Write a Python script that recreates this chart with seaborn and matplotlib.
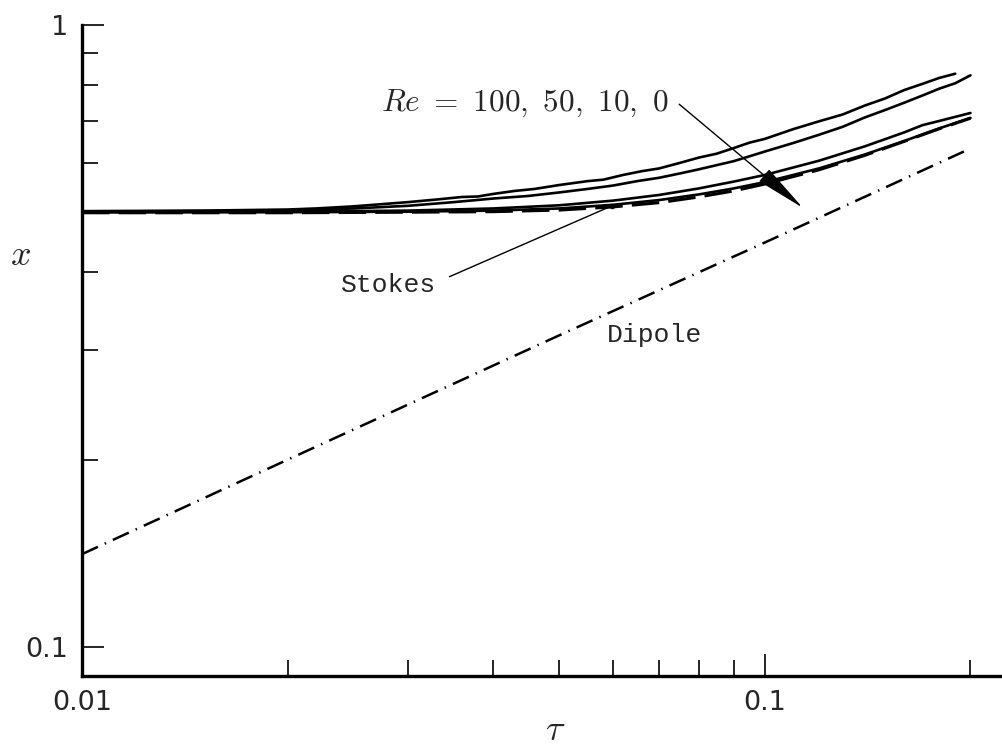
import numpy as np
import pandas as pd
import matplotlib
matplotlib.use("Agg")
import matplotlib.pyplot as plt
import seaborn as sns

# --- data -----------------------------------------------------------------
tau_re100 = [0.01, 0.015, 0.02, 0.022, 0.025, 0.028, 0.03, 0.033, 0.036, 0.038,
             0.04, 0.043, 0.046, 0.05, 0.055, 0.058, 0.062, 0.066, 0.07, 0.075,
             0.08, 0.085, 0.09, 0.095, 0.10, 0.11, 0.12, 0.13, 0.14, 0.15,
             0.16, 0.17, 0.18, 0.19]
x_re100 = [0.502, 0.503, 0.505, 0.507, 0.511, 0.516, 0.519, 0.524, 0.529, 0.530,
           0.535, 0.541, 0.545, 0.553, 0.561, 0.564, 0.574, 0.582, 0.588, 0.600,
           0.612, 0.621, 0.634, 0.647, 0.656, 0.680, 0.700, 0.718, 0.742, 0.762,
           0.786, 0.804, 0.822, 0.835]

tau_re50 = [0.01, 0.02, 0.025, 0.03, 0.035, 0.04, 0.045, 0.05, 0.055, 0.06,
            0.065, 0.07, 0.075, 0.08, 0.09, 0.10, 0.11, 0.12, 0.13, 0.14,
            0.15, 0.16, 0.17, 0.18, 0.19, 0.20]
x_re50 = [0.501, 0.503, 0.507, 0.512, 0.519, 0.526, 0.531, 0.538, 0.545, 0.552,
          0.561, 0.568, 0.577, 0.586, 0.604, 0.626, 0.646, 0.666, 0.686, 0.710,
          0.730, 0.750, 0.770, 0.790, 0.806, 0.830]

tau_re10 = [0.01, 0.02, 0.03, 0.04, 0.05, 0.06, 0.07, 0.08, 0.09, 0.10,
            0.12, 0.14, 0.16, 0.17, 0.18, 0.20]
x_re10 = [0.500, 0.501, 0.503, 0.507, 0.513, 0.522, 0.533, 0.546, 0.560, 0.574,
          0.605, 0.638, 0.672, 0.690, 0.701, 0.722]

tau_re0 = [0.01, 0.02, 0.03, 0.04, 0.05, 0.06, 0.07, 0.08, 0.09, 0.10,
           0.12, 0.14, 0.16, 0.18, 0.20]
x_re0 = [0.500, 0.500, 0.501, 0.503, 0.507, 0.514, 0.523, 0.534, 0.546, 0.559,
         0.588, 0.619, 0.651, 0.682, 0.709]

tau_stokes = [0.01, 0.02, 0.03, 0.04, 0.05, 0.06, 0.07, 0.08, 0.09, 0.10,
              0.12, 0.14, 0.16, 0.18, 0.20]
x_stokes = [0.499, 0.499, 0.500, 0.501, 0.504, 0.510, 0.518, 0.529, 0.541, 0.555,
            0.585, 0.617, 0.650, 0.681, 0.708]

tau_dipole = [0.01, 0.02, 0.05, 0.10, 0.20]
x_dipole = [0.141, 0.200, 0.317, 0.447, 0.633]

re_label = r"$Re\ =\ \mathrm{100,\ 50,\ 10,\ 0}$"
stokes_label = "Stokes"
dipole_label = "Dipole"

# --- style ----------------------------------------------------------------
sns.set_style("ticks")
plt.rcParams["font.family"] = ["DejaVu Sans"]
plt.rcParams["mathtext.fontset"] = "cm"

fig = plt.figure(figsize=(10.03, 7.46), dpi=100)
ax = fig.add_axes([82 / 1003, 70 / 746, 921 / 1003, 651 / 746])

lw = 1.9
for t, v in [(tau_re100, x_re100), (tau_re50, x_re50),
             (tau_re10, x_re10), (tau_re0, x_re0)]:
    sns.lineplot(x=t, y=v, ax=ax, color="black", lw=lw,
                 estimator=None, sort=False)

sns.lineplot(x=tau_stokes, y=x_stokes, ax=ax, color="black", lw=lw + 0.3,
             estimator=None, sort=False)
ax.lines[-1].set_dashes([9, 3])

sns.lineplot(x=tau_dipole, y=x_dipole, ax=ax, color="black", lw=1.8,
             estimator=None, sort=False)
ax.lines[-1].set_dashes([7, 3, 0.6, 3])

ax.set_xscale("log")
ax.set_yscale("log")
ax.set_xlim(0.01, 0.2232)
ax.set_ylim(0.0898, 1.0)

# ticks
tk = matplotlib.ticker
ax.xaxis.set_major_locator(tk.FixedLocator([0.01, 0.1]))
ax.xaxis.set_major_formatter(tk.FixedFormatter(["0.01", "0.1"]))
ax.xaxis.set_minor_locator(tk.FixedLocator(
    [0.02, 0.03, 0.04, 0.05, 0.06, 0.07, 0.08, 0.09, 0.2]))
ax.xaxis.set_minor_formatter(tk.NullFormatter())
ax.yaxis.set_major_locator(tk.FixedLocator([0.1, 1.0]))
ax.yaxis.set_major_formatter(tk.FixedFormatter(["0.1", "1"]))
ax.yaxis.set_minor_locator(tk.FixedLocator(
    [0.2, 0.3, 0.4, 0.5, 0.6, 0.7, 0.8, 0.9]))
ax.yaxis.set_minor_formatter(tk.NullFormatter())

ax.tick_params(which="major", direction="in", length=15.5, width=1.2,
               labelsize=19.5, pad=10, color="black")
ax.tick_params(which="minor", direction="in", length=11.5, width=1.2,
               color="black")

for side in ("top", "right"):
    ax.spines[side].set_visible(False)
for side in ("left", "bottom"):
    ax.spines[side].set_linewidth(2.4)
    ax.spines[side].set_color("black")

ax.set_xlabel("")
ax.set_ylabel("")
ax.text(-0.067, 0.647, r"$x$", transform=ax.transAxes, fontsize=26,
        ha="center", va="center")
ax.text(0.514, -0.083, r"$\tau$", transform=ax.transAxes, fontsize=26,
        ha="center", va="center")

# annotations
ax.annotate(re_label, xy=(0.1137, 0.508), xytext=(0.0445, 0.749),
            fontsize=22.5, ha="center", va="center",
            arrowprops=dict(arrowstyle="-|>,head_length=1.45,head_width=0.22",
                            color="black", lw=1.0, shrinkA=7, shrinkB=0,
                            relpos=(1.0, 0.75)))

stokes_pt = (0.0597, x_stokes[5] + 0.002)
ax.annotate(stokes_label, xy=stokes_pt, xytext=(0.0281, 0.382),
            fontsize=19, ha="center", va="center", family="Liberation Mono",
            arrowprops=dict(arrowstyle="-", color="black", lw=1.0,
                            shrinkA=8, shrinkB=0, relpos=(1.0, 0.6)))
ax.plot([stokes_pt[0]], [stokes_pt[1]], marker="o", ms=3, color="black")

ax.text(0.0690, 0.317, dipole_label, fontsize=19, ha="center", va="center",
        family="Liberation Mono")

fig.savefig("out.png", dpi=100)
